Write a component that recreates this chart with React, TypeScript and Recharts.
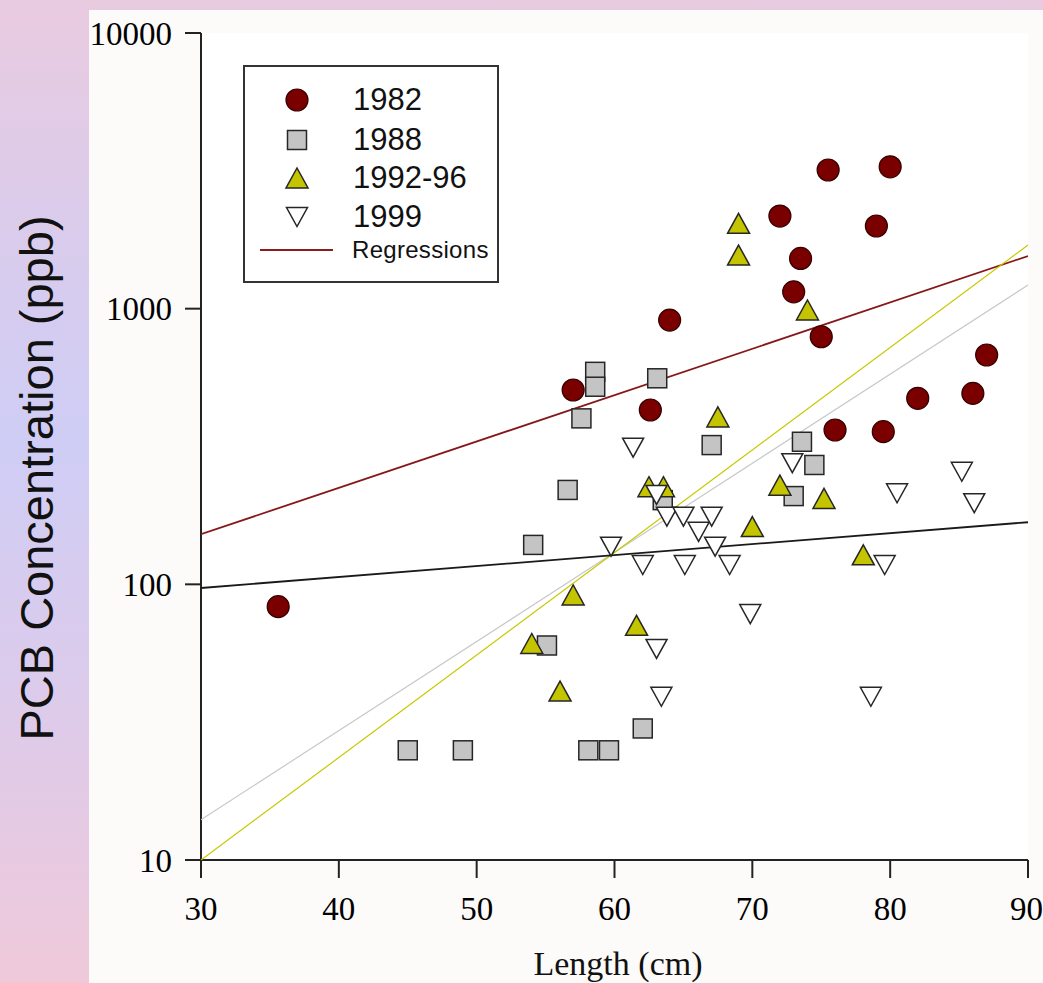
import React from 'react';
import { ScatterChart, Scatter, XAxis, YAxis } from 'recharts';

// length (cm) and PCB (ppb) per survey year
const x1982 = [35.6, 57.0, 62.6, 64.0, 72.0, 73.0, 73.5, 75.0, 75.5, 76.0, 79.0, 79.5, 80.0, 82.0, 86.0, 87.0];
const y1982 = [83, 507, 429, 909, 2168, 1151, 1521, 791, 3184, 363, 1995, 358, 3270, 473, 493, 679];

const x1988 = [45.0, 49.0, 54.1, 55.1, 56.6, 57.6, 58.1, 58.6, 58.6, 59.6, 62.05, 63.1, 63.5, 67.05, 73.0, 73.6, 74.5];
const y1988 = [25, 25, 139, 60, 220, 400, 25, 590, 521, 25, 30, 559, 202, 320, 209, 329, 271];

const x1992 = [54.0, 56.05, 57.0, 61.6, 62.5, 63.55, 67.5, 69.0, 69.0, 70.0, 72.0, 74.0, 75.2, 78.05];
const y1992 = [61, 41, 91.5, 71, 226, 226, 405, 2039, 1565, 162, 229, 989, 205, 128];

const x1999 = [59.75, 61.35, 62.05, 63.05, 63.05, 63.4, 63.8, 65.0, 65.1, 66.1, 67.05, 67.3, 68.35, 69.85, 72.9, 78.6, 79.6, 80.5, 85.2, 86.1];
const y1999 = [137, 313, 117.5, 211, 58.3, 39.1, 176, 176, 117.5, 155, 176, 137, 117.5, 78, 275, 39.1, 117.5, 214, 256, 197];

// regression end points at 30 and 90 cm
const regX = [30, 90];
const reg1982 = [152, 1552];
const reg1988 = [14, 1218];
const reg1992 = [10, 1702];
const reg1999 = [97, 168];

const xTicks = [30, 40, 50, 60, 70, 80, 90];
const yTicks = [10, 100, 1000, 10000];

const legendLabels = ['1982', '1988', '1992-96', '1999'];

const toPoints = (xs: number[], ys: number[]) => xs.map((x, i) => ({ x, y: ys[i] }));

type Kind = 'circle' | 'square' | 'up' | 'down';

const Marker = ({ kind, cx, cy }: { kind: Kind; cx: number; cy: number }) => {
    if (kind === 'circle') {
        return <circle cx={cx} cy={cy} r={11} fill="#7a0000" stroke="#360000" strokeWidth={1.2} />;
    }
    if (kind === 'square') {
        return <rect x={cx - 9.5} y={cy - 9.5} width={19} height={19} fill="#c4c4c4" stroke="#262626" strokeWidth={1.5} />;
    }
    if (kind === 'up') {
        return (
            <polygon
                points={`${cx},${cy - 10} ${cx + 11},${cy + 10} ${cx - 11},${cy + 10}`}
                fill="#c4c400"
                stroke="#262626"
                strokeWidth={1.5}
            />
        );
    }
    return (
        <polygon
            points={`${cx - 10.5},${cy - 9.5} ${cx + 10.5},${cy - 9.5} ${cx},${cy + 9.5}`}
            fill="#ffffff"
            stroke="#262626"
            strokeWidth={1.5}
        />
    );
};

const kinds: Kind[] = ['circle', 'square', 'up', 'down'];

const axisLine = { stroke: '#222', strokeWidth: 2 };
const tickFont = { fontFamily: '"Liberation Serif", "Times New Roman", serif', fontSize: 33, fill: '#000' };

const Legend = () => (
    <div
        style={{
            position: 'absolute',
            left: 243,
            top: 65,
            width: 252,
            height: 214,
            border: '2px solid #333',
            background: '#fff',
            fontFamily: '"Liberation Sans", Arial, sans-serif',
            color: '#111',
        }}
    >
        {legendLabels.map((label, i) => {
            const cy = [33, 73, 111, 150][i];
            return (
                <div key={label} style={{ position: 'absolute', left: 0, top: cy - 20, height: 40, width: 250 }}>
                    <svg width={100} height={40} style={{ position: 'absolute', left: 0, top: 0 }}>
                        <Marker kind={kinds[i]} cx={52} cy={20} />
                    </svg>
                    <span style={{ position: 'absolute', left: 108, top: 2, fontSize: 31, lineHeight: '36px' }}>{label}</span>
                </div>
            );
        })}
        <div style={{ position: 'absolute', left: 15, top: 182, width: 73, height: 2, background: '#8b1c1c' }} />
        <span style={{ position: 'absolute', left: 107, top: 168, fontSize: 24, lineHeight: '30px', letterSpacing: 0.3 }}>Regressions</span>
    </div>
);

export default function App() {
    return (
        <div
            style={{
                position: 'absolute',
                left: 0,
                top: 0,
                width: 1043,
                height: 983,
                overflow: 'hidden',
                background: 'linear-gradient(180deg, #e9cbe0 0%, #d6ccef 30%, #cfcdf5 45%, #dccbeb 70%, #efc9da 100%)',
            }}
        >
            <div style={{ position: 'absolute', left: 89, top: 10, width: 954, height: 973, background: '#fcfbfa' }} />
            <div style={{ position: 'absolute', left: 201, top: 33, width: 827, height: 827, background: '#ffffff' }} />
            <div style={{ position: 'absolute', left: 0, top: 0 }}>
                <ScatterChart width={1043} height={983} margin={{ top: 33, right: 15, bottom: 63, left: 101 }}>
                    <XAxis
                        dataKey="x"
                        type="number"
                        domain={[30, 90]}
                        ticks={xTicks}
                        allowDataOverflow
                        height={60}
                        tickSize={18}
                        tickMargin={19}
                        tick={tickFont}
                        axisLine={axisLine}
                        tickLine={axisLine}
                    />
                    <XAxis xAxisId="top" orientation="top" type="number" domain={[30, 90]} height={0} tick={false} tickLine={false} axisLine={axisLine} />
                    <YAxis
                        dataKey="y"
                        type="number"
                        scale="log"
                        domain={[10, 10000]}
                        ticks={yTicks}
                        allowDataOverflow
                        width={100}
                        tickSize={16}
                        tickMargin={13}
                        tick={tickFont}
                        axisLine={axisLine}
                        tickLine={axisLine}
                    />
                    <YAxis yAxisId="right" orientation="right" type="number" scale="log" domain={[10, 10000]} width={0} tick={false} tickLine={false} axisLine={axisLine} />

                    <Scatter data={toPoints(regX, reg1982)} line={{ stroke: '#861818', strokeWidth: 1.8 }} shape={() => <g />} legendType="none" isAnimationActive={false} />
                    <Scatter data={toPoints(regX, reg1988)} line={{ stroke: '#c8c8c8', strokeWidth: 1.2 }} shape={() => <g />} legendType="none" isAnimationActive={false} />
                    <Scatter data={toPoints(regX, reg1992)} line={{ stroke: '#c8c800', strokeWidth: 1.2 }} shape={() => <g />} legendType="none" isAnimationActive={false} />
                    <Scatter data={toPoints(regX, reg1999)} line={{ stroke: '#1a1a1a', strokeWidth: 1.8 }} shape={() => <g />} legendType="none" isAnimationActive={false} />

                    <Scatter name="1982" data={toPoints(x1982, y1982)} shape={(p: any) => <Marker kind="circle" cx={p.cx} cy={p.cy} />} isAnimationActive={false} />
                    <Scatter name="1988" data={toPoints(x1988, y1988)} shape={(p: any) => <Marker kind="square" cx={p.cx} cy={p.cy} />} isAnimationActive={false} />
                    <Scatter name="1992-96" data={toPoints(x1992, y1992)} shape={(p: any) => <Marker kind="up" cx={p.cx} cy={p.cy} />} isAnimationActive={false} />
                    <Scatter name="1999" data={toPoints(x1999, y1999)} shape={(p: any) => <Marker kind="down" cx={p.cx} cy={p.cy} />} isAnimationActive={false} />
                </ScatterChart>
            </div>
            <Legend />
            <div
                style={{
                    position: 'absolute',
                    left: 37,
                    top: 478,
                    transform: 'translate(-50%, -50%) rotate(-90deg)',
                    whiteSpace: 'nowrap',
                    fontFamily: '"Liberation Sans", Arial, sans-serif',
                    fontSize: 47,
                    lineHeight: '50px',
                    color: '#111',
                }}
            >
                PCB Concentration (ppb)
            </div>
            <div
                style={{
                    position: 'absolute',
                    left: 618,
                    top: 947,
                    transform: 'translateX(-50%)',
                    whiteSpace: 'nowrap',
                    fontFamily: '"Liberation Serif", "Times New Roman", serif',
                    fontSize: 34,
                    lineHeight: '34px',
                    color: '#111',
                }}
            >
                Length (cm)
            </div>
        </div>
    );
}
